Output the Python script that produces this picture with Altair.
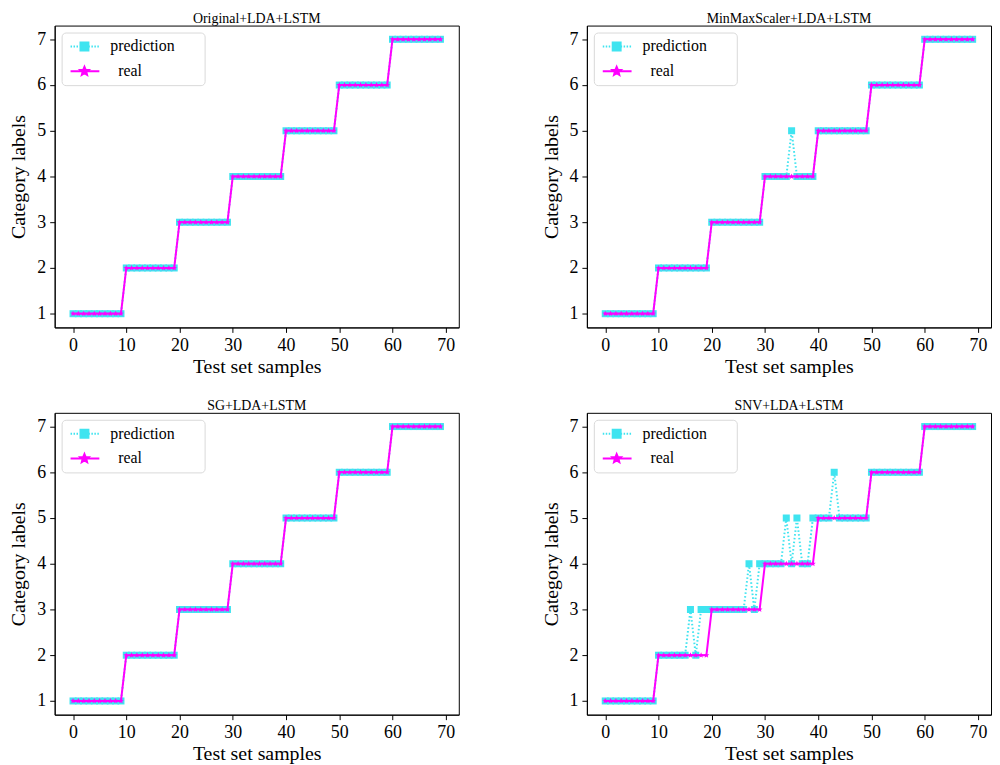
import math
import altair as alt
import pandas as pd

# ---------------- data ----------------
x_vals = list(range(70))

real = [1, 1, 1, 1, 1, 1, 1, 1, 1, 1,
        2, 2, 2, 2, 2, 2, 2, 2, 2, 2,
        3, 3, 3, 3, 3, 3, 3, 3, 3, 3,
        4, 4, 4, 4, 4, 4, 4, 4, 4, 4,
        5, 5, 5, 5, 5, 5, 5, 5, 5, 5,
        6, 6, 6, 6, 6, 6, 6, 6, 6, 6,
        7, 7, 7, 7, 7, 7, 7, 7, 7, 7]

pred_original = [1, 1, 1, 1, 1, 1, 1, 1, 1, 1,
                 2, 2, 2, 2, 2, 2, 2, 2, 2, 2,
                 3, 3, 3, 3, 3, 3, 3, 3, 3, 3,
                 4, 4, 4, 4, 4, 4, 4, 4, 4, 4,
                 5, 5, 5, 5, 5, 5, 5, 5, 5, 5,
                 6, 6, 6, 6, 6, 6, 6, 6, 6, 6,
                 7, 7, 7, 7, 7, 7, 7, 7, 7, 7]

pred_minmax = [1, 1, 1, 1, 1, 1, 1, 1, 1, 1,
               2, 2, 2, 2, 2, 2, 2, 2, 2, 2,
               3, 3, 3, 3, 3, 3, 3, 3, 3, 3,
               4, 4, 4, 4, 4, 5, 4, 4, 4, 4,
               5, 5, 5, 5, 5, 5, 5, 5, 5, 5,
               6, 6, 6, 6, 6, 6, 6, 6, 6, 6,
               7, 7, 7, 7, 7, 7, 7, 7, 7, 7]

pred_sg = [1, 1, 1, 1, 1, 1, 1, 1, 1, 1,
           2, 2, 2, 2, 2, 2, 2, 2, 2, 2,
           3, 3, 3, 3, 3, 3, 3, 3, 3, 3,
           4, 4, 4, 4, 4, 4, 4, 4, 4, 4,
           5, 5, 5, 5, 5, 5, 5, 5, 5, 5,
           6, 6, 6, 6, 6, 6, 6, 6, 6, 6,
           7, 7, 7, 7, 7, 7, 7, 7, 7, 7]

pred_snv = [1, 1, 1, 1, 1, 1, 1, 1, 1, 1,
            2, 2, 2, 2, 2, 2, 3, 2, 3, 3,
            3, 3, 3, 3, 3, 3, 3, 4, 3, 4,
            4, 4, 4, 4, 5, 4, 5, 4, 4, 5,
            5, 5, 5, 6, 5, 5, 5, 5, 5, 5,
            6, 6, 6, 6, 6, 6, 6, 6, 6, 6,
            7, 7, 7, 7, 7, 7, 7, 7, 7, 7]

panel_titles = ["Original+LDA+LSTM", "MinMaxScaler+LDA+LSTM", "SG+LDA+LSTM", "SNV+LDA+LSTM"]
panel_preds = [pred_original, pred_minmax, pred_sg, pred_snv]
series_names = ["prediction", "real"]
x_ticks = [0, 10, 20, 30, 40, 50, 60, 70]
y_ticks = [1, 2, 3, 4, 5, 6, 7]

rows = []
for title, pred in zip(panel_titles, panel_preds):
    for xi, p, r in zip(x_vals, pred, real):
        rows.append({"panel": title, "x": xi, "series": series_names[0], "y": p})
        rows.append({"panel": title, "x": xi, "series": series_names[1], "y": r})
df = pd.DataFrame(rows)

# ---------------- style ----------------
CYAN = "#3fe4f0"
MAGENTA = "#ff00ff"
FONT = "Liberation Serif"


def star_path(cx, cy, r_out, r_in):
    pts = []
    for k in range(10):
        ang = -math.pi / 2 + k * math.pi / 5
        r = r_out if k % 2 == 0 else r_in
        pts.append((cx + r * math.cos(ang), cy + r * math.sin(ang)))
    return "M" + "L".join(f"{px:.3f},{py:.3f}" for px, py in pts) + "Z"


STAR = star_path(0, 0, 1, 0.45)

# legend symbols: line segment + marker (unit = 5px with symbolSize 100)
dots = "".join(f"M{(-1 + 0.6 * k):.2f},0h0.3" for k in range(10))
LEG_PRED = dots + "M1.0,-0.8h1.6v1.6h-1.6Z"
LEG_REAL = "M-1,0H4.8" + star_path(1.8, 0, 0.9, 0.4)

legend = alt.Legend(
    title=None, orient="top-left", offset=7, padding=6, cornerRadius=4,
    strokeColor="#d9d9d9", fillColor="white", symbolSize=100, symbolStrokeWidth=2,
    labelFont=FONT, labelFontSize=16, labelColor="black", labelOffset=27,
    rowPadding=8, labelLimit=300,
    labelExpr="datum.value == 'real' ? '\u200b\u2002real' : 'prediction\u2003\u2002\u200b'",
)


def make_panel(title):
    base = alt.Chart(df).transform_filter(alt.datum.panel == title)
    xenc = alt.X("x:Q", scale=alt.Scale(domain=[-3.45, 72.45], nice=False, zero=False),
                 axis=alt.Axis(values=x_ticks, title="Test set samples", format="d"))
    yenc = alt.Y("y:Q", scale=alt.Scale(domain=[0.7, 7.3], nice=False, zero=False),
                 axis=alt.Axis(values=y_ticks, title="Category labels", format="d"))
    pred = base.transform_filter(alt.datum.series == series_names[0])
    rl = base.transform_filter(alt.datum.series == series_names[1])

    pred_line = pred.mark_line(color=CYAN, strokeDash=[1.6, 2.2], strokeWidth=2).encode(x=xenc, y=yenc, order="x:Q")
    pred_pts = pred.mark_point(shape="square", filled=True, size=50, color=CYAN, opacity=1).encode(x=xenc, y=yenc)
    real_line = rl.mark_line(color=MAGENTA, strokeWidth=2).encode(x=xenc, y=yenc, order="x:Q")
    real_pts = rl.mark_point(shape=STAR, filled=True, size=36, color=MAGENTA, opacity=1).encode(x=xenc, y=yenc)

    leg = base.transform_filter("false").mark_point(strokeWidth=2, opacity=1).encode(
        x=xenc, y=yenc,
        fill=alt.Fill("series:N", scale=alt.Scale(domain=series_names, range=[CYAN, MAGENTA]), legend=legend),
        stroke=alt.Stroke("series:N", scale=alt.Scale(domain=series_names, range=[CYAN, MAGENTA]), legend=legend),
        shape=alt.Shape("series:N", scale=alt.Scale(domain=series_names, range=[LEG_PRED, LEG_REAL]), legend=legend),
    )

    return alt.layer(pred_line, pred_pts, real_line, real_pts, leg).properties(
        width=407, height=304,
        title=alt.TitleParams(title, font=FONT, fontSize=14, fontWeight="normal", color="black", offset=0),
    ).resolve_scale(fill="independent", stroke="independent", shape="independent")


p = [make_panel(t) for t in panel_titles]

chart = alt.concat(
    *p, columns=2, spacing={"row": 86, "column": 129}, bounds="flush"
).resolve_scale(
    fill="independent", stroke="independent", shape="independent"
).resolve_legend(
    fill="independent", stroke="independent", shape="independent"
).properties(
    padding={"left": 0, "top": 0, "right": 0, "bottom": 0}
).configure_view(
    stroke="black", strokeWidth=1
).configure_axis(
    grid=False, domainColor="black", tickColor="black", tickSize=5,
    labelFont=FONT, labelFontSize=18, labelColor="black", labelPadding=4,
    titleFont=FONT, titleFontSize=20, titleFontWeight="normal", titleColor="black",
).configure_axisX(titlePadding=2).configure_axisY(titlePadding=8)

chart.save("out.html", embed_options={"renderer": "svg", "actions": False})
